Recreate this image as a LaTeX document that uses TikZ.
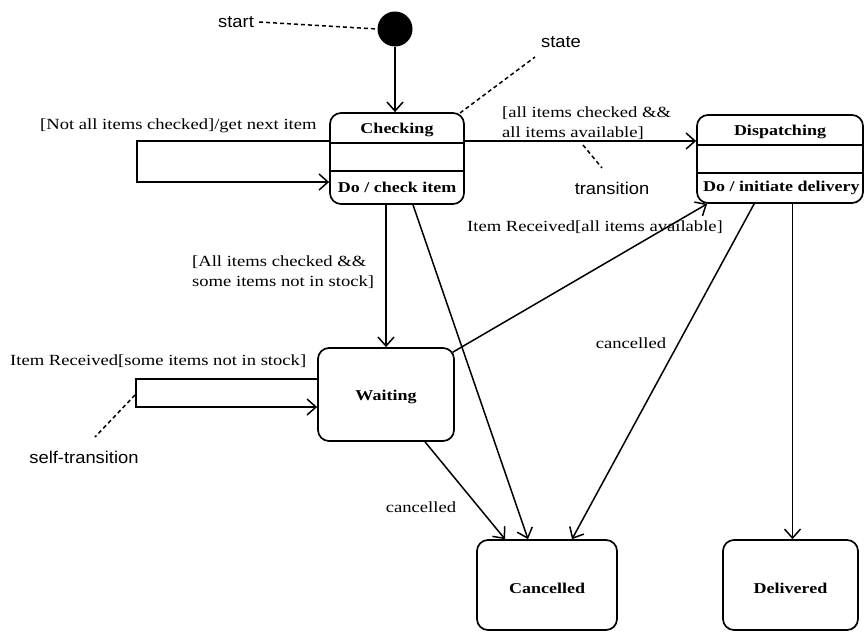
\documentclass[tikz,border=0pt]{standalone}
\usepackage{fontspec}
\setmainfont{Liberation Serif}
\newfontfamily\lblfont[FakeStretch=1.2]{Liberation Serif}
\newfontfamily\notefont[FakeStretch=1.08]{Liberation Sans}
\usetikzlibrary{arrows.meta,calc}
\begin{document}
\begin{tikzpicture}[x=1pt,y=-1pt,
  statebox/.style={draw,line width=1.7pt,rounded corners=11pt,inner sep=0pt},
  divider/.style={line width=1.7pt},
  trans/.style={line width=1.5pt,-{Straight Barb[length=9pt,width=16pt,line width=1.5pt]}},
  lbl/.style={font=\lblfont\fontsize{15.5}{20}\selectfont,inner sep=0pt,align=left},
  slbl/.style={font=\lblfont\bfseries\fontsize{15}{18}\selectfont,inner sep=0pt},
  note/.style={font=\notefont\fontsize{17}{20}\selectfont,inner sep=0pt},
  pointer/.style={line width=1.5pt,dash pattern=on 4pt off 3pt}]
\useasboundingbox (0,0) rectangle (864,632);

% initial pseudo-state
\node[circle,fill=black,minimum size=35pt,inner sep=0pt] (init) at (395,29) {};

% states
\node[statebox,minimum width=134pt,minimum height=91pt] (chk) at (397,158.5) {};
\node[slbl] (chkname) at (397,130) {Checking};
\node[slbl] (chkdo) at (397,187.5) {Do / check item};
\draw[divider] (chk.west |- 0,143) -- (chk.east |- 0,143);
\draw[divider] (chk.west |- 0,171) -- (chk.east |- 0,171);

\node[statebox,minimum width=166pt,minimum height=88pt] (dsp) at (780,159) {};
\node[slbl] (dspname) at (780,132) {Dispatching};
\node[slbl,anchor=west] (dspdo) at (703,188) {Do / initiate delivery};
\draw[divider] (dsp.west |- 0,145) -- (dsp.east |- 0,145);
\draw[divider] (dsp.west |- 0,173) -- (dsp.east |- 0,173);

\node[statebox,minimum width=136pt,minimum height=93pt] (wt) at (386,394.5) {};
\node[slbl] (wtname) at (386,397) {Waiting};

\node[statebox,minimum width=140pt,minimum height=90pt] (cnc) at (547,585) {};
\node[slbl] (cncname) at (547,588) {Cancelled};

\node[statebox,minimum width=135pt,minimum height=90pt] (dlv) at (790.5,585) {};
\node[slbl] (dlvname) at (790.5,588) {Delivered};

% transitions
\draw[trans] (init) -- (init |- chk.north);

\coordinate (ck1) at (137,141);
\coordinate (ck2) at (137,182);
\draw[trans] (chk.west |- ck1) -- (ck1) -- (ck2) -- (chk.west |- ck2);

\draw[trans] (chk.east |- 0,141) -- (dsp.west |- 0,141);

\draw[trans] ([xshift=-11pt]chk.south) -- ([xshift=-11pt]chk.south |- wt.north);
\draw[trans] ([xshift=16pt]chk.south) -- ([xshift=-19pt]cnc.north);

\coordinate (wt1) at (136,379);
\coordinate (wt2) at (136,407);
\draw[trans] (wt.west |- wt1) -- (wt1) -- (wt2) -- (wt.west |- wt2);

\draw[trans] ([xshift=-2pt,yshift=-5pt]wt.north east) -- ([xshift=11pt]dsp.south west);
\draw[trans] ([xshift=39pt]wt.south) -- ([xshift=-42pt]cnc.north);
\draw[trans] ([xshift=58pt]dsp.south west) -- ([xshift=25pt]cnc.north);
\draw[trans] ([xshift=2pt]dlv.north |- dsp.south) -- ([xshift=2pt]dlv.north);

% transition labels
\node[lbl,anchor=west] (lnotall) at (40,126) {[Not all items checked]/get next item};
\node[lbl,anchor=west] (lallav) at (502,123) {[all items checked \&\&\\all items available]};
\node[lbl,anchor=west] (lsome) at (192,272) {[All items checked \&\&\\some items not in stock]};
\node[lbl,anchor=west] (lrcvall) at (467,227) {Item Received[all items available]};
\node[lbl,anchor=west] (lrcvsome) at (10,361) {Item Received[some items not in stock]};
\node[lbl] (lcan1) at (631,343) {cancelled};
\node[lbl] (lcan2) at (421,507) {cancelled};

% annotations
\node[note] (nstart) at (236,22) {start};
\draw[pointer] ([xshift=5pt]nstart.east) -- (init.west);

\node[note] (nstate) at (561,42) {state};
\coordinate (pstate) at (460,113);
\coordinate (qstate) at (535,57);
\draw[pointer] (pstate) -- (qstate);

\node[note] (ntrans) at (612,188) {transition};
\coordinate (ptrans) at (583,145);
\coordinate (qtrans) at (602,168);
\draw[pointer] (ptrans) -- (qtrans);

\node[note] (nself) at (84,457) {self-transition};
\coordinate (pself) at (135,395);
\coordinate (qself) at (95,437);
\draw[pointer] (pself) -- (qself);
\end{tikzpicture}
\end{document}
